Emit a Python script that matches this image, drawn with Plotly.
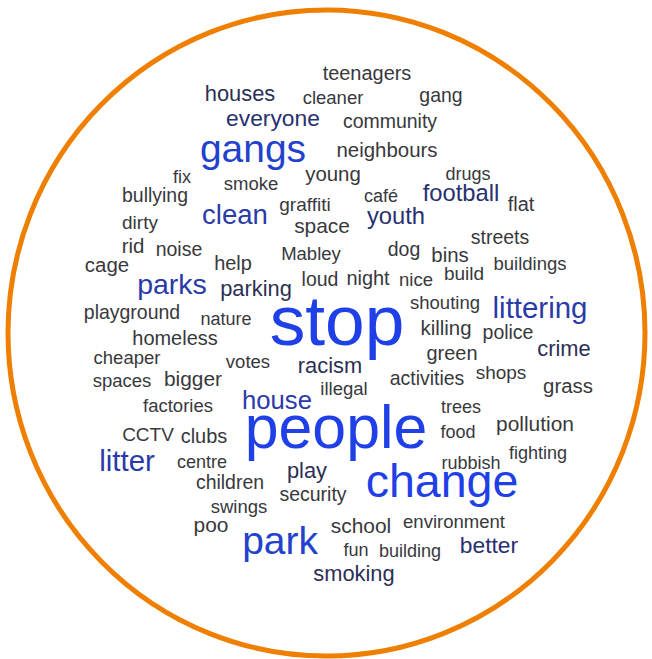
import plotly.graph_objects as go

# Word cloud data: words and their weights (relative frequency -> font size)
words = [
    "teenagers", "houses", "cleaner", "gang", "everyone", "community", "gangs",
    "neighbours", "fix", "smoke", "young", "drugs", "bullying", "café", "graffiti",
    "football", "flat", "dirty", "clean", "space", "youth", "rid", "noise",
    "streets", "Mabley", "dog", "bins", "cage", "help", "buildings", "loud",
    "night", "nice", "build", "parks", "parking", "shouting", "littering", "stop",
    "playground", "nature", "killing", "police", "homeless", "crime", "cheaper",
    "green", "votes", "racism", "spaces", "bigger", "activities", "shops", "grass",
    "illegal", "factories", "house", "trees", "CCTV", "clubs", "people", "food",
    "pollution", "litter", "centre", "rubbish", "fighting", "play", "children",
    "change", "security", "swings", "poo", "school", "environment", "park", "fun",
    "building", "better", "smoking",
]
weights = [
    21, 23, 19.5, 20.5, 24, 20.5, 41,
    21.5, 19, 19.5, 21.5, 19, 20.5, 19, 20,
    25, 21, 20, 29, 22, 25, 21.5, 20.5,
    20.5, 19.5, 20.5, 21.5, 21.5, 21, 19.5, 20.5,
    21, 19.5, 20, 30, 23, 19.5, 31, 75,
    20.5, 19, 21.5, 20.5, 21, 23, 19.5,
    21, 19.5, 23, 19.5, 22, 20.5, 20, 21.5,
    19.5, 19.5, 27, 19, 20, 21, 64, 19,
    22, 31, 19, 19, 19, 23, 20.5,
    49, 20.5, 19.5, 22, 22, 19.5, 41, 19,
    19, 24, 23,
]

# Layout of the cloud (word centre positions, pixels from top-left)
pos_x = [
    367, 240, 333, 441, 273, 390, 253,
    387, 182, 251, 333, 468, 155, 381, 305,
    461, 521, 140, 235, 322, 396, 133, 179,
    500, 311, 404, 450, 107, 233, 530, 320,
    368, 416, 464, 172, 256, 445, 540, 337,
    132, 226, 446, 508, 175, 564, 127,
    452, 248, 330, 122, 193, 427, 501, 568,
    344, 178, 277, 461, 148, 204, 336, 458,
    535, 127, 202, 471, 538, 307, 230,
    442, 313, 239, 211, 361, 454, 280, 356,
    410, 489, 354,
]
pos_y = [
    75, 96, 99, 97, 120, 123, 152,
    152, 178, 185, 176, 175, 197, 197, 206,
    195, 206, 224, 217, 228, 218, 248, 251,
    239, 255, 251, 257, 267, 265, 265, 281,
    280, 281, 275, 287, 291, 304, 311, 327,
    314, 320, 330, 334, 340, 351, 359,
    355, 363, 368, 382, 381, 380, 374, 388,
    390, 407, 403, 408, 436, 438, 433, 433,
    426, 464, 463, 464, 454, 473, 484,
    485, 496, 508, 527, 528, 523, 544, 551,
    552, 547, 576,
]

SIZE_SCALE = 0.95


def word_color(w):
    if w >= 45:
        return "#1f40e6"
    if w >= 38:
        return "#2241cc"
    if w >= 26:
        return "#2a3aa8"
    if w >= 24:
        return "#283070"
    if w >= 23:
        return "#2c2f55"
    return "#38383c"


colors = [word_color(w) for w in weights]
sizes = [w * SIZE_SCALE for w in weights]

fig = go.Figure()
fig.add_trace(go.Scatter(
    x=pos_x, y=pos_y, text=words, mode="text",
    textposition="middle center",
    textfont=dict(family="Arial, Liberation Sans, sans-serif", size=sizes, color=colors),
    hoverinfo="text", showlegend=False,
))

fig.add_shape(type="circle", xref="x", yref="y", x0=8, x1=645, y0=10, y1=656,
              line=dict(color="#ef7f00", width=5), layer="below")

fig.update_layout(
    width=652, height=659,
    margin=dict(l=0, r=0, t=0, b=0),
    paper_bgcolor="white", plot_bgcolor="white",
    xaxis=dict(range=[0, 652], visible=False, fixedrange=True),
    yaxis=dict(range=[659, 0], visible=False, fixedrange=True),
)

fig.write_html(
    "out.html",
    config={"displayModeBar": False},
    post_script="document.body.style.margin='0px';document.body.style.overflow='hidden';",
)
